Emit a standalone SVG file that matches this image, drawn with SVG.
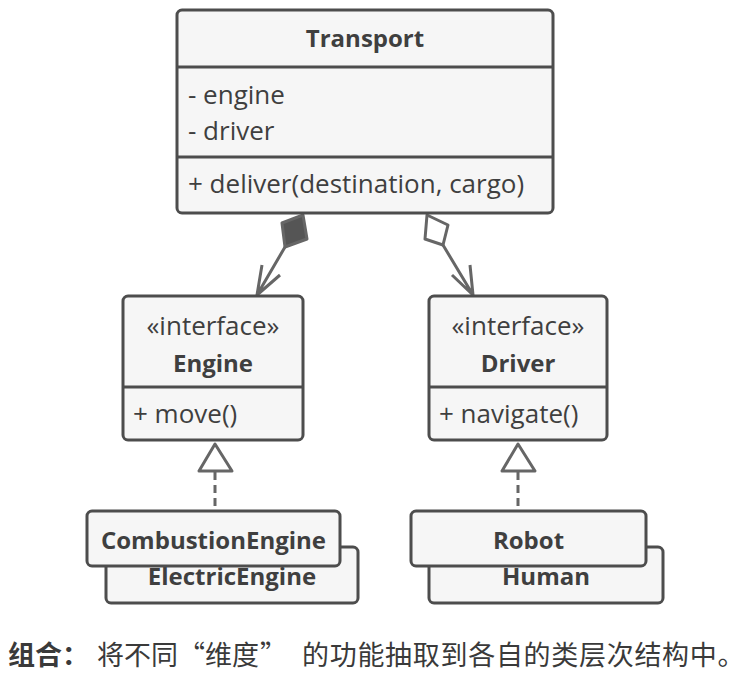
<svg xmlns="http://www.w3.org/2000/svg" width="754" height="682" viewBox="0 0 754 682">
<style>
.box{fill:#f6f6f6;stroke:#4d4d4d;stroke-width:3}
.div{stroke:#4d4d4d;stroke-width:3}
.t{font-family:"Open Sans","Noto Sans",sans-serif;font-size:26px;fill:#3f3f3f}
.b{font-family:"Open Sans","Noto Sans",sans-serif;font-size:24px;font-weight:bold;fill:#3f3f3f}
.c{text-anchor:middle}
.ln{fill:none;stroke:#666;stroke-width:3;stroke-linejoin:round}
.cap{font-family:"Noto Sans CJK SC",sans-serif;font-size:27px;fill:#3a3a3a}
</style>
<rect width="754" height="682" fill="#ffffff"/>
<g id="connectors">
<path class="ln" d="M303,215 L307,239 L285,247 L282,223 Z" style="fill:#555"/>
<path class="ln" d="M285,247 L257,295 M262,265 L257,295 L280,275"/>
<path class="ln" d="M427,215 L448,225 L443,245 L425,239 Z"/>
<path class="ln" d="M443,245 L473,295 M452,275 L473,295 L470,265"/>
<path class="ln" d="M215,444 L232,471 L199,471 Z"/>
<path class="ln" d="M215,472 L215,511" stroke-dasharray="8,5"/>
<path class="ln" d="M518,444 L535,471 L502,471 Z"/>
<path class="ln" d="M518,472 L518,511" stroke-dasharray="8,5"/>
</g>
<g id="transport">
<rect class="box" x="177" y="10" width="376" height="203" rx="5"/>
<line class="div" x1="177" y1="67" x2="553" y2="67"/>
<line class="div" x1="177" y1="157" x2="553" y2="157"/>
<text class="b c" x="365" y="47">Transport</text>
<text class="t" x="188" y="104">- engine</text>
<text class="t" x="188" y="140">- driver</text>
<text class="t" x="188" y="193">+ deliver(destination, cargo)</text>
</g>
<g id="engine">
<rect class="box" x="123" y="296" width="180" height="144" rx="5"/>
<line class="div" x1="123" y1="387" x2="303" y2="387"/>
<text class="t c" x="213" y="335">«interface»</text>
<text class="b c" x="213" y="372">Engine</text>
<text class="t" x="133" y="423">+ move()</text>
</g>
<g id="driver">
<rect class="box" x="429" y="296" width="178" height="144" rx="5"/>
<line class="div" x1="429" y1="387" x2="607" y2="387"/>
<text class="t c" x="518" y="335">«interface»</text>
<text class="b c" x="518" y="372">Driver</text>
<text class="t" x="439" y="423">+ navigate()</text>
</g>
<g id="electricengine">
<rect class="box" x="106" y="547" width="252" height="56" rx="5"/>
<text class="b c" x="232" y="585">ElectricEngine</text>
</g>
<g id="combustionengine">
<rect class="box" x="87" y="511" width="253" height="55" rx="5"/>
<text class="b c" x="213.5" y="549">CombustionEngine</text>
</g>
<g id="human">
<rect class="box" x="429" y="547" width="234" height="56" rx="5"/>
<text class="b c" x="546" y="585">Human</text>
</g>
<g id="robot">
<rect class="box" x="411" y="511" width="235" height="55" rx="5"/>
<text class="b c" x="528.5" y="549">Robot</text>
</g>
<text class="cap" x="8" y="665"><tspan font-weight="bold">组合：</tspan><tspan x="97">将不同</tspan><tspan x="178">“</tspan><tspan x="205">维度</tspan><tspan x="260">”</tspan><tspan x="302" letter-spacing="0.7">的功能抽取到各自的类层次结构中。</tspan></text>
</svg>
